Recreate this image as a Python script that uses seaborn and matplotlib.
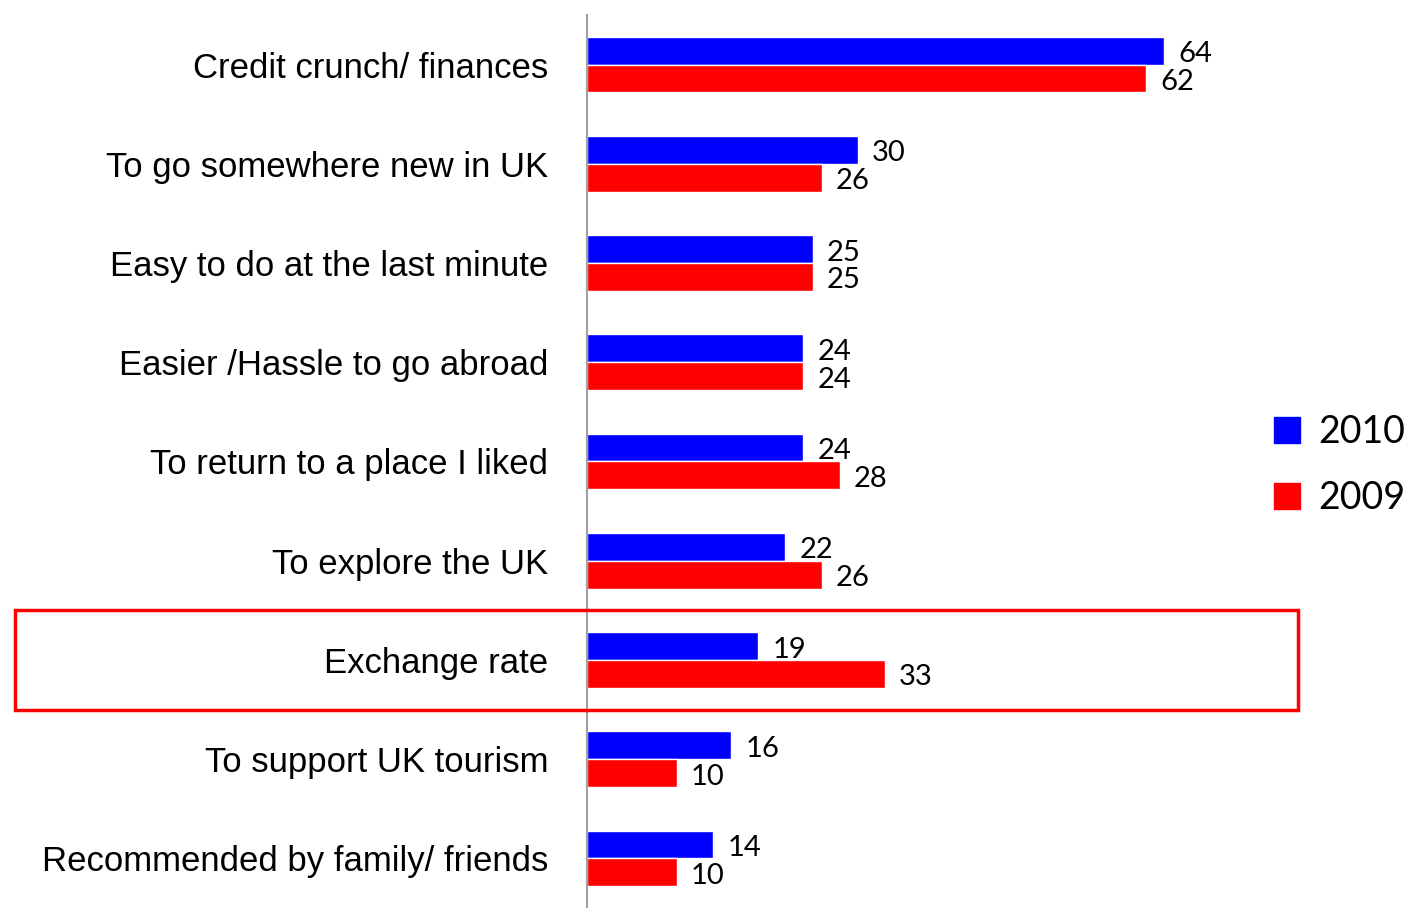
import pandas as pd
import matplotlib.pyplot as plt
import matplotlib.patches as mpatches
import matplotlib.transforms as mtransforms
import seaborn as sns

reasons = [
    "Credit crunch/ finances",
    "To go somewhere new in UK",
    "Easy to do at the last minute",
    "Easier /Hassle to go abroad",
    "To return to a place I liked",
    "To explore the UK",
    "Exchange rate",
    "To support UK tourism",
    "Recommended by family/ friends",
]
values_2010 = [64, 30, 25, 24, 24, 22, 19, 16, 14]
values_2009 = [62, 26, 25, 24, 28, 26, 33, 10, 10]
years = ["2010", "2009"]
colors = {"2010": "#0000FF", "2009": "#FF0000"}

df = pd.DataFrame({
    "reason": reasons * 2,
    "year": ["2010"] * len(reasons) + ["2009"] * len(reasons),
    "value": values_2010 + values_2009,
})

sns.set_style("white")
plt.rcParams["font.family"] = ["Liberation Sans", "DejaVu Sans"]
plt.rcParams["text.color"] = "black"
plt.rcParams["ytick.color"] = "black"

fig = plt.figure(figsize=(14.12, 9.08), dpi=100)
ax = fig.add_axes([587 / 1412, 0.0, 663 / 1412, 893 / 908])

sns.barplot(data=df, y="reason", x="value", hue="year", order=reasons,
            hue_order=years, palette=colors, width=0.56, orient="h",
            saturation=1, ax=ax, legend=False)

ax.set_xlim(0, 73.5)
ax.set_ylim(8.5, -0.5)
ax.set_xlabel("")
ax.set_ylabel("")
ax.set_xticks([])
ax.tick_params(axis="y", length=0, pad=28, labelsize=25, labelcolor="black")
for s in ["top", "right", "bottom"]:
    ax.spines[s].set_visible(False)
ax.spines["left"].set_color("#A0A0A0")
ax.spines["left"].set_linewidth(1.5)

for container in ax.containers:
    labels = ax.bar_label(container, padding=10, fontsize=21, family="Lato",
                          color="black")
    for t in labels:
        t.xyann = (10, -2.5)

# highlight box around Exchange rate row
idx = reasons.index("Exchange rate")
trans = mtransforms.blended_transform_factory(fig.transFigure, ax.transData)
box = mpatches.Rectangle((15 / 1412, idx - 0.5), (1298 - 15) / 1412, 1.0,
                         transform=trans, fill=False, edgecolor="#FF0000",
                         linewidth=2.5, clip_on=False)
fig.add_artist(box)

handles = [mpatches.Patch(color=colors[y], label=y) for y in years]
fig.legend(handles=handles, loc="center left", bbox_to_anchor=(1274 / 1412, 0.488),
           frameon=False, borderpad=0, borderaxespad=0,
           prop={"family": "Lato", "size": 27},
           handlelength=0.68, handleheight=0.68, handletextpad=0.5, labelspacing=0.8)

fig.savefig("out.png", dpi=100)
